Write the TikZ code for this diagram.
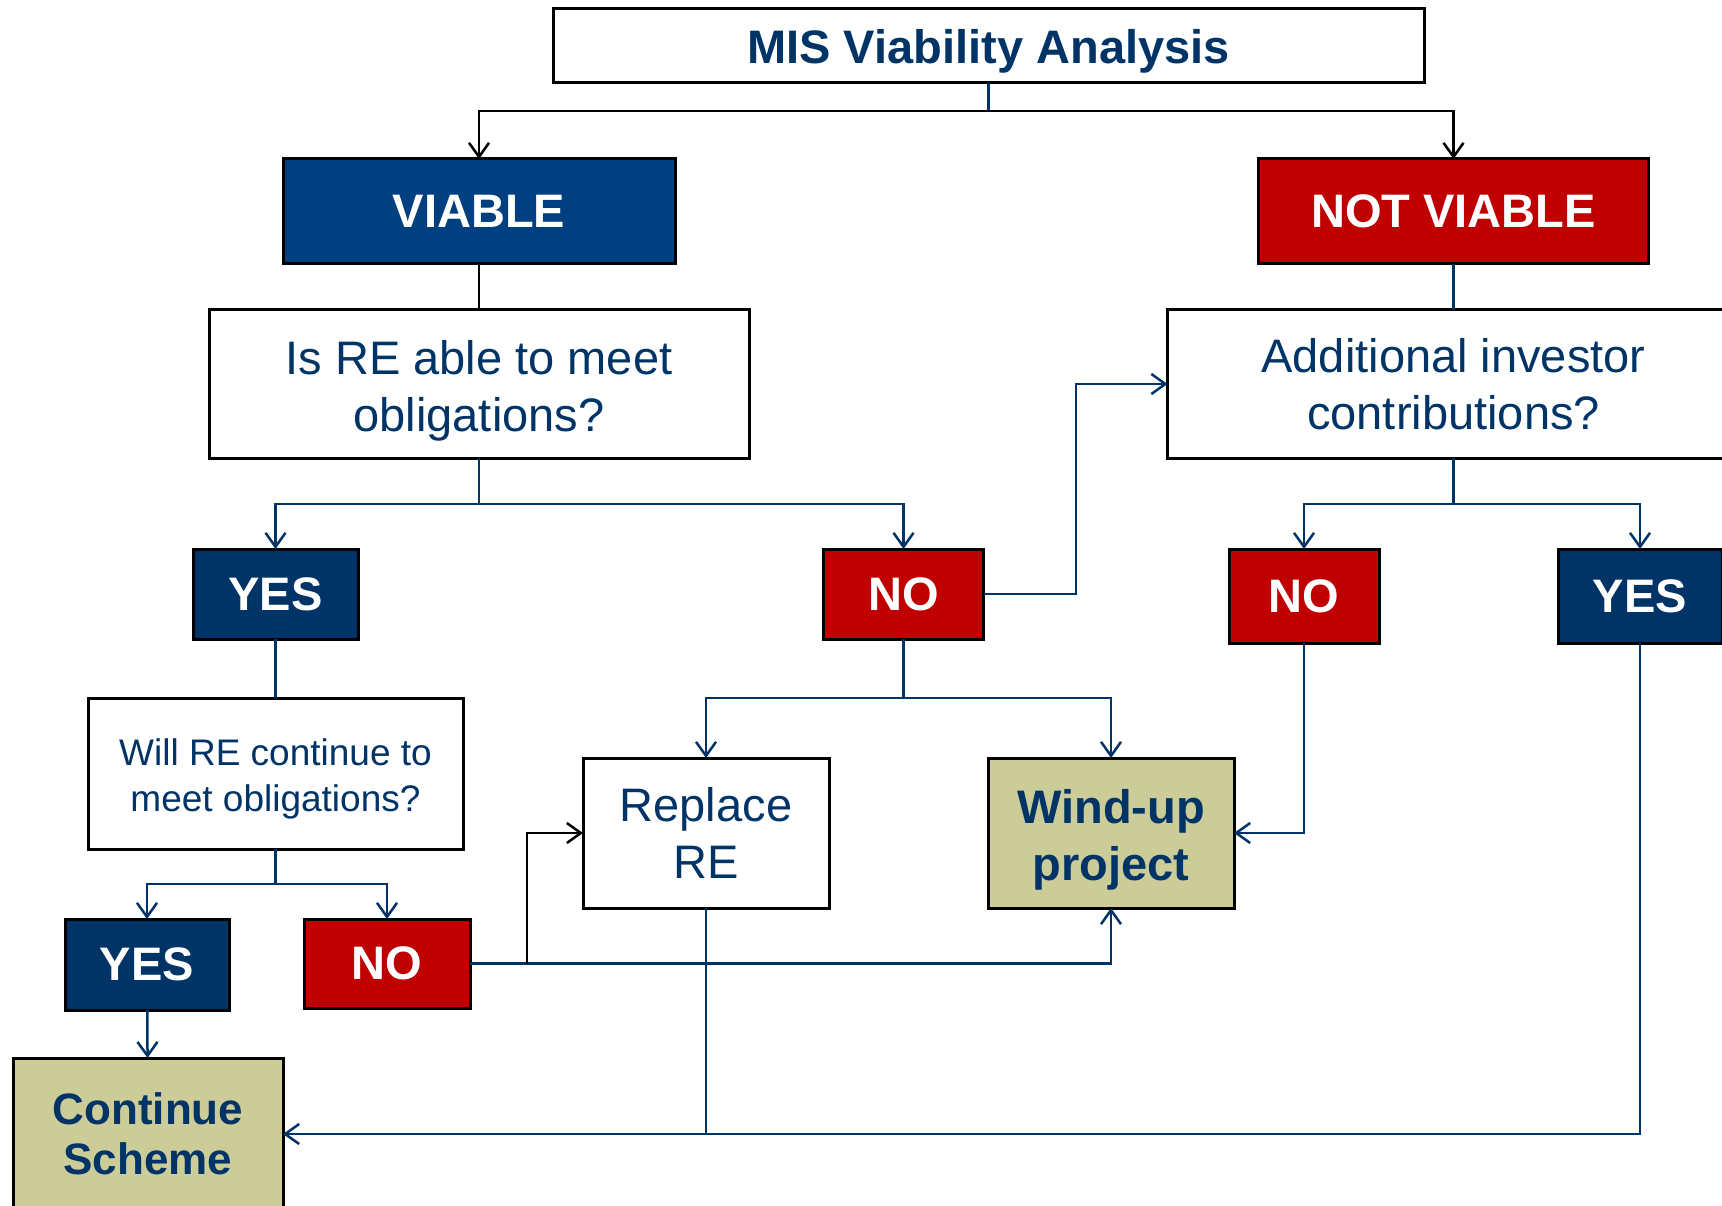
\documentclass[tikz,border=0pt]{standalone}
\usepackage{fontspec}
\setmainfont{Liberation Sans}
\usetikzlibrary{arrows.meta, positioning}

\definecolor{misNavy}{RGB}{0,51,102}
\definecolor{viableBlue}{RGB}{0,64,128}
\definecolor{misRed}{RGB}{192,0,0}
\definecolor{endKhaki}{RGB}{204,204,153}

% extra room above a first line, so two-line texts sit as in the chart
\newcommand{\capstrut}{\rule{0pt}{1em}}

\begin{document}
\begin{tikzpicture}[x=1pt, y=-1pt]
		\tikzstyle{box} = [rectangle, draw=black, line width=3pt, inner sep=0pt, outer sep=0pt, align=center]
		\tikzstyle{TitleBox} = [box, minimum width=871pt, minimum height=74pt, fill=white, text=misNavy, font=\fontsize{47}{57}\selectfont\bfseries, text depth=0pt]
		\tikzstyle{ViableBox} = [box, minimum width=392pt, minimum height=105pt, fill=viableBlue, text=white, font=\fontsize{47}{57}\selectfont\bfseries]
		\tikzstyle{NotViableBox} = [ViableBox, minimum width=390pt, fill=misRed]
		\tikzstyle{QuestionBox} = [box, minimum width=540pt, minimum height=148pt, fill=white, text=misNavy, font=\fontsize{47}{57}\selectfont]
		\tikzstyle{SmallQuestionBox} = [box, minimum width=375pt, minimum height=151pt, fill=white, text=misNavy, font=\fontsize{37}{46}\selectfont]
		\tikzstyle{YesBox} = [box, minimum width=164pt, minimum height=90pt, fill=misNavy, text=white, font=\fontsize{47}{57}\selectfont\bfseries]
		\tikzstyle{NoBox} = [YesBox, fill=misRed]
		\tikzstyle{ActionBox} = [box, minimum width=246pt, minimum height=150pt, fill=white, text=misNavy, font=\fontsize{47}{57}\selectfont]
		\tikzstyle{EndBox} = [box, minimum width=246pt, minimum height=150pt, fill=endKhaki, text=misNavy, font=\fontsize{47}{57}\selectfont\bfseries]
		\tikzstyle{link} = [draw=misNavy, line width=2.5pt]
		\tikzstyle{arrow} = [link, ->, >={Straight Barb[length=14pt, width=20pt]}]
		\tikzstyle{blackLink} = [link, draw=black]
		\tikzstyle{blackArrow} = [arrow, draw=black]
		
		\useasboundingbox (0,0) rectangle (1722,1206);
		
		\node (title) [TitleBox] at (988.5,46) {MIS Viability Analysis};
		\node (viable) [ViableBox] at (479,211.5) {VIABLE};
		\node (notViable) [NotViableBox] at (1453.5,211.5) {NOT VIABLE};
		
		\node (meetQ) [QuestionBox, below = 46pt of viable] {\capstrut Is RE able to meet\\obligations?};
		\node (contribQ) [QuestionBox, minimum width=572pt, below = 46pt of notViable] {Additional investor\\contributions?};
		
		\node (yesMeet) [YesBox, minimum width=165pt] at (275.5,594) {YES};
		\node (noMeet) [NoBox, minimum width=160pt] at (903.5,594) {NO};
		\node (noContrib) [NoBox, minimum width=150pt, minimum height=94pt] at (1304,596) {NO};
		\node (yesContrib) [YesBox, minimum height=94pt] at (1640,596) {YES};
		
		\node (continueQ) [SmallQuestionBox, below = 59pt of yesMeet] {\capstrut Will RE continue to\\meet obligations?};
		\node (yesContinue) [YesBox, minimum height=91pt] at (147,964.5) {YES};
		\node (noContinue) [NoBox, minimum width=166pt, minimum height=89pt] at (387,963.5) {NO};
		
		\node (replaceRE) [ActionBox] at (706,833) {Replace\\RE};
		\node (windUp) [EndBox] at (1111,833) {\capstrut Wind-up\\project};
		\node (continueScheme) [EndBox, minimum width=270pt, minimum height=152pt, font=\fontsize{44}{50}\selectfont\bfseries] at (148,1134) {Continue\\Scheme};
		
		% split points
		\coordinate (titleSplit) at (988.5,111);
		\coordinate (meetSplit) at (479,504);
		\coordinate (contribSplit) at (1453.5,504);
		\coordinate (noMeetSplit) at (903.5,698);
		\coordinate (continueSplit) at (275.5,884);
		\coordinate (noMeetBend) at (1076,384);
		\coordinate (replaceFork) at (527,964);
		
		\draw[link] (title) -- (titleSplit);
		\draw[blackArrow] (titleSplit) -| (viable);
		\draw[blackArrow] (titleSplit) -| (notViable);
		\draw[blackLink] (viable) -- (meetQ);
		\draw[link] (notViable) -- (contribQ);
		
		\draw[link] (meetQ) -- (meetSplit);
		\draw[arrow] (meetSplit) -| (yesMeet);
		\draw[arrow] (meetSplit) -| (noMeet);
		\draw[link] (contribQ) -- (contribSplit);
		\draw[arrow] (contribSplit) -| (noContrib);
		\draw[arrow] (contribSplit) -| (yesContrib);
		\draw[arrow] (noMeet.east) -| (noMeetBend) -- (contribQ.west);
		
		\draw[link] (yesMeet) -- (continueQ);
		\draw[link] (continueQ) -- (continueSplit);
		\draw[arrow] (continueSplit) -| (yesContinue);
		\draw[arrow] (continueSplit) -| (noContinue);
		\draw[arrow] (yesContinue) -- (continueScheme);
		
		\draw[link] (noMeet) -- (noMeetSplit);
		\draw[arrow] (noMeetSplit) -| (replaceRE);
		\draw[arrow] (noMeetSplit) -| (windUp);
		\draw[arrow] (noContinue.east) -| (windUp.south);
		\draw[blackArrow] (replaceFork) |- (replaceRE.west);
		\draw[arrow] (noContrib.south) |- (windUp.east);
		\draw[arrow] (yesContrib.south) |- (continueScheme.east);
		\draw[link] (replaceRE.south) -- (replaceRE.south |- continueScheme.east);
		\end{tikzpicture}
\end{document}
